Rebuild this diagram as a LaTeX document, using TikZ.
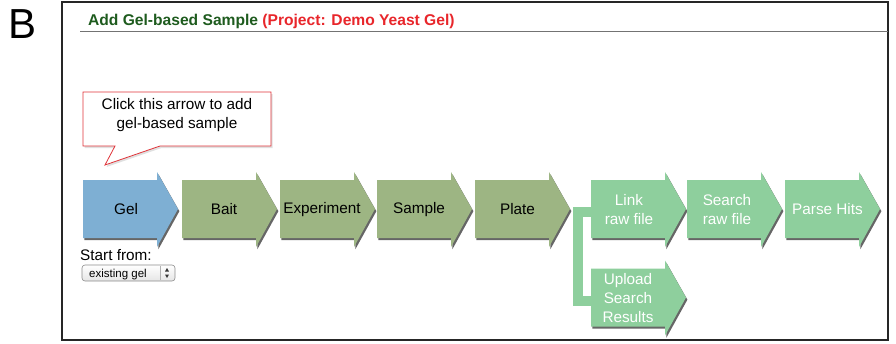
\documentclass[tikz,border=0pt]{standalone}
\usepackage{fontspec}
\setmainfont{Liberation Sans}
\definecolor{gelblue}{HTML}{7EAFD3}
\definecolor{olivegr}{HTML}{9DB583}
\definecolor{mintgr}{HTML}{8ECF9D}
\definecolor{titlegreen}{HTML}{1E5B1E}
\definecolor{titlered}{HTML}{E8262B}
\definecolor{callred}{HTML}{E0343A}
\tikzset{
  lbl/.style={font=\fontsize{15.3}{19}\selectfont, align=center, inner sep=0pt},
  bodybox/.style={minimum width=74pt, minimum height=58pt, inner sep=0pt},
  bracket/.style={draw=mintgr, line width=10pt, line cap=butt, line join=miter},
  frame/.style={draw=black!85, line width=1.6pt},
}
\newcommand\steparrow[7]{% name, x0, ytop, fill, textcolor, text x offset, text
  \fill[black!60, xshift=1.4pt, yshift=-2.2pt] (#2,#3) -- ({#2+74},#3) -- ({#2+74},{#3-8}) -- ({#2+95},{#3+29}) -- ({#2+74},{#3+67}) -- ({#2+74},{#3+58}) -- (#2,{#3+58}) -- cycle;
  \fill[#4] (#2,#3) -- ({#2+74},#3) -- ({#2+74},{#3-8}) -- ({#2+95},{#3+29}) -- ({#2+74},{#3+67}) -- ({#2+74},{#3+58}) -- (#2,{#3+58}) -- cycle;
  \node[bodybox] (#1) at ({#2+37},{#3+29}) {};
  \node[lbl, text=#5] (#1-t) at ({#2+#6},{#3+29.5}) {#7};
}
\begin{document}
\begin{tikzpicture}[x=1pt,y=-1pt]
\useasboundingbox (0,0) rectangle (896,343);
% letter
\node[font=\fontsize{42}{42}\selectfont, inner sep=0pt, anchor=south west] (letterB) at (8,38.5) {B};
% frame
\draw[frame] (62,2) rectangle (888,340);
% title
\node[font=\bfseries\fontsize{15.6}{18}\selectfont, inner sep=0pt, anchor=base west] (title) at (88,25)
  {\textcolor{titlegreen}{Add Gel-based Sample} \textcolor{titlered}{(Project: Demo Yeast Gel)}};
\draw[black!55, line width=0.9pt] (80,31) -- (888,31);
% callout
\fill[black!12, xshift=1.5pt, yshift=-2pt] (83,92) -- (271,92) -- (271,146) -- (160,146) -- (105,165) -- (115,146) -- (83,146) -- cycle;
\draw[callred, fill=white, line width=0.8pt] (83,92) -- (271,92) -- (271,146) -- (160,146) -- (105,165) -- (115,146) -- (83,146) -- cycle;
\node[lbl] (callout) at (177,115.5) {Click this arrow to add\\gel-based sample};
% arrows
\steparrow{gel}{83}{180}{gelblue}{black}{43}{Gel}
\steparrow{bait}{182}{180}{olivegr}{black}{42}{Bait}
\steparrow{exper}{280}{180}{olivegr}{black}{42}{Experiment}
\steparrow{sample}{377}{180}{olivegr}{black}{42}{Sample}
\steparrow{plate}{475}{180}{olivegr}{black}{42.5}{Plate}
\steparrow{link}{591}{180}{mintgr}{white}{38}{Link\\raw file}
\steparrow{search}{687}{180}{mintgr}{white}{40}{Search\\raw file}
\steparrow{parse}{785}{180}{mintgr}{white}{42.5}{Parse Hits}
\steparrow{upload}{591}{268.5}{mintgr}{white}{37}{\fontsize{15.3}{18.5}\selectfont Upload\\Search\\Results}
% bracket
\draw[bracket] ([yshift=-3pt]link.west) -- ++(-12.5,0) |- ([yshift=-3.5pt]upload.west);
% start from
\node[font=\fontsize{15.3}{18}\selectfont, inner sep=0pt, anchor=base west] (startfrom) at (80,260) {Start from:};
\draw[black!45, line width=0.6pt, top color=white, bottom color=black!10, rounded corners=3pt] (82,265) rectangle (175,281);
\node[font=\fontsize{11.5}{13}\selectfont, inner sep=0pt, anchor=base west] (sel) at (89,277.5) {existing gel};
\draw[black!30, line width=0.5pt] (160,266) -- (160,280);
\fill[black!80] (165,271.5) -- (169,271.5) -- (167,268) -- cycle;
\fill[black!80] (165,274.5) -- (169,274.5) -- (167,278) -- cycle;
\end{tikzpicture}
\end{document}
